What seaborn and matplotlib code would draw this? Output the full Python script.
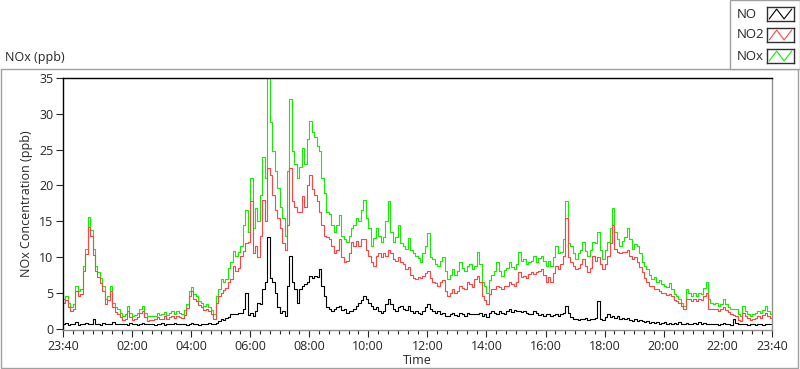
import numpy as np
import pandas as pd
import matplotlib.pyplot as plt
import seaborn as sns
from matplotlib.patches import Rectangle

# 5-minute readings from 23:40 to 23:40 next day (one row per hour)
no_x = [
    4.1, 4.6, 3.6, 3.0, 3.4, 6.0, 5.2, 5.5, 8.7, 11.1, 15.6, 13.7,
    11.1, 8.7, 7.9, 7.0, 6.0, 4.1, 4.6, 6.0, 3.6, 3.0, 2.7, 2.2,
    1.7, 2.0, 3.1, 2.2, 1.7, 1.9, 2.2, 2.8, 3.1, 2.2, 1.7, 1.8,
    1.7, 1.8, 2.2, 1.9, 2.0, 2.3, 1.9, 2.2, 2.5, 2.0, 2.4, 2.2,
    2.0, 2.6, 3.5, 5.2, 5.8, 4.8, 4.5, 3.9, 3.6, 3.2, 3.4, 3.0,
    2.6, 2.0, 4.5, 5.5, 6.9, 6.5, 6.9, 8.5, 9.3, 10.9, 10.2, 10.7,
    11.6, 14.4, 16.5, 13.5, 21.0, 14.0, 16.8, 15.0, 18.6, 24.0, 21.0, 35.0,
    28.8, 24.8, 22.0, 19.6, 17.0, 15.4, 13.0, 22.0, 32.0, 24.8, 23.0, 21.0,
    22.5, 25.2, 23.0, 26.5, 29.0, 27.5, 26.7, 25.5, 24.8, 21.0, 19.0, 16.3,
    16.0, 14.4, 13.5, 14.5, 15.8, 13.0, 12.5, 12.1, 13.0, 14.0, 14.4, 15.4,
    15.0, 16.5, 17.9, 15.5, 14.0, 11.6, 12.6, 14.0, 13.0, 12.1, 12.8, 15.0,
    17.8, 13.5, 12.1, 12.8, 14.4, 12.0, 11.5, 11.1, 12.6, 11.0, 10.5, 10.2,
    9.8, 9.3, 10.5, 11.5, 13.3, 10.0, 9.7, 9.0, 8.7, 9.5, 10.0, 8.0,
    6.9, 7.5, 8.3, 7.5, 8.0, 9.3, 8.5, 8.0, 8.7, 9.0, 8.3, 8.7,
    10.7, 9.0, 6.5, 6.0, 5.0, 6.8, 7.5, 8.0, 9.3, 8.0, 7.4, 8.2,
    8.5, 9.3, 8.6, 8.3, 9.0, 10.7, 9.5, 9.7, 9.0, 9.3, 9.5, 10.2,
    9.3, 9.8, 10.2, 9.5, 8.7, 9.5, 8.7, 10.0, 11.6, 10.5, 10.7, 12.5,
    17.8, 12.0, 11.6, 10.5, 9.7, 10.5, 11.0, 12.1, 10.8, 10.2, 11.0, 12.1,
    12.0, 13.5, 11.0, 9.7, 11.0, 12.1, 14.0, 16.8, 13.5, 12.5, 11.6, 12.3,
    12.8, 14.0, 12.5, 11.1, 11.8, 11.6, 10.5, 9.3, 8.8, 8.3, 7.5, 6.9,
    7.2, 6.5, 6.8, 6.2, 6.0, 5.8, 6.3, 5.5, 4.8, 4.6, 4.1, 3.6,
    3.1, 5.5, 5.0, 4.5, 5.0, 4.6, 5.0, 4.8, 5.6, 6.5, 4.1, 3.6,
    3.4, 3.6, 3.2, 3.5, 4.1, 3.4, 3.0, 2.7, 2.8, 2.7, 2.0, 1.7,
    3.1, 2.5, 2.0, 1.7, 2.0, 2.2, 2.5, 2.2, 2.6, 3.1, 2.4, 2.0, 2.0,
]
no2 = [
    3.6, 4.0, 3.0, 2.4, 2.8, 5.3, 4.6, 4.8, 8.0, 10.4, 14.2, 13.0,
    10.3, 8.0, 7.2, 6.3, 5.2, 3.5, 4.0, 5.3, 3.0, 2.3, 2.0, 1.6,
    1.2, 1.4, 2.5, 1.6, 1.2, 1.3, 1.6, 2.2, 2.5, 1.6, 1.1, 1.2,
    1.2, 1.3, 1.6, 1.4, 1.4, 1.7, 1.4, 1.6, 1.8, 1.5, 1.8, 1.6,
    1.5, 1.9, 2.9, 4.5, 5.2, 4.2, 3.8, 3.3, 3.0, 2.6, 2.8, 2.4,
    2.0, 1.3, 3.6, 4.5, 5.0, 5.4, 5.6, 6.5, 6.9, 8.7, 8.0, 8.4,
    10.2, 10.9, 12.0, 12.1, 17.8, 10.5, 11.6, 10.0, 13.0, 18.0, 15.0, 22.4,
    21.4, 18.6, 16.5, 15.4, 14.0, 12.0, 11.0, 14.5, 22.4, 17.8, 17.0, 16.3,
    16.3, 18.5, 17.0, 20.0, 21.5, 19.5, 18.6, 17.8, 16.3, 14.5, 13.0, 12.8,
    12.5, 11.5, 10.5, 11.0, 12.5, 10.0, 9.3, 9.5, 10.5, 12.1, 11.5, 12.3,
    11.5, 12.5, 12.5, 11.0, 10.2, 9.3, 8.7, 10.2, 10.5, 10.0, 10.5, 10.2,
    11.0, 10.5, 9.7, 9.5, 10.0, 9.3, 9.0, 8.3, 8.6, 7.5, 7.0, 6.9,
    7.2, 7.0, 7.4, 7.8, 8.0, 7.0, 6.5, 6.3, 6.0, 6.5, 6.8, 5.2,
    4.5, 5.0, 5.5, 5.0, 5.3, 6.0, 5.7, 5.5, 6.5, 6.2, 5.8, 6.9,
    7.4, 6.5, 4.5, 4.0, 3.5, 4.8, 5.5, 5.5, 6.0, 5.8, 5.5, 6.0,
    6.0, 6.5, 6.2, 6.0, 6.5, 7.9, 7.2, 7.4, 7.0, 7.6, 7.9, 7.6,
    7.9, 8.0, 8.3, 7.5, 6.5, 7.2, 6.5, 7.8, 8.7, 8.3, 9.0, 10.2,
    15.4, 10.0, 9.3, 8.7, 8.3, 8.5, 9.0, 9.7, 8.8, 7.9, 8.5, 10.2,
    9.5, 10.0, 9.0, 8.3, 9.0, 10.2, 12.0, 14.4, 11.1, 10.7, 10.5, 10.7,
    10.7, 11.0, 10.2, 9.7, 10.0, 9.3, 8.6, 7.9, 7.0, 6.5, 6.0, 6.0,
    5.5, 5.5, 5.2, 5.0, 5.0, 4.7, 4.8, 4.5, 4.0, 3.8, 3.6, 3.1,
    2.7, 4.1, 4.1, 3.8, 4.1, 3.9, 4.1, 4.0, 4.5, 5.0, 2.7, 2.8,
    2.7, 2.8, 2.5, 2.7, 3.0, 2.6, 2.3, 2.0, 1.9, 1.7, 1.2, 1.0,
    2.2, 1.8, 1.5, 1.2, 1.4, 1.5, 1.8, 1.5, 1.9, 2.2, 1.7, 1.5, 1.5,
]
no = [
    0.6, 0.8, 0.5, 0.7, 0.6, 0.9, 0.5, 0.7, 0.6, 0.8, 0.6, 0.7,
    1.3, 0.6, 0.7, 0.5, 0.8, 0.6, 0.7, 0.6, 0.9, 0.6, 0.7, 0.6,
    0.6, 0.7, 0.5, 0.8, 0.6, 0.7, 0.5, 0.6, 0.8, 0.6, 0.7, 0.6,
    0.6, 0.5, 0.7, 0.6, 0.8, 0.5, 0.6, 0.7, 0.6, 0.8, 0.6, 0.7,
    0.6, 0.7, 0.5, 0.6, 0.8, 0.6, 0.7, 0.5, 0.6, 0.7, 0.6, 0.8,
    0.7, 0.6, 0.8, 1.0, 1.3, 1.2, 1.5, 1.6, 2.0, 2.0, 2.1, 2.2,
    2.2, 2.7, 5.0, 1.9, 2.2, 1.7, 2.5, 3.6, 3.4, 5.5, 6.5, 12.8,
    7.0, 6.5, 5.0, 3.0, 2.2, 2.5, 1.7, 6.0, 10.2, 6.5, 5.5, 3.6,
    5.5, 6.0, 6.2, 6.5, 7.3, 7.0, 7.4, 7.2, 8.3, 6.0, 4.5, 3.0,
    2.7, 2.5, 2.8, 3.0, 3.1, 2.6, 2.8, 2.2, 2.5, 2.4, 2.8, 3.1,
    3.6, 4.0, 4.5, 4.2, 3.6, 3.1, 2.7, 3.0, 2.5, 2.2, 2.5, 3.5,
    4.1, 3.5, 2.7, 2.5, 3.0, 3.1, 2.8, 2.6, 3.1, 2.5, 2.2, 2.5,
    2.2, 2.0, 2.5, 3.0, 3.4, 2.8, 2.5, 2.2, 2.4, 2.0, 2.2, 1.8,
    1.7, 2.0, 2.2, 1.9, 1.8, 2.2, 2.0, 1.8, 2.2, 2.0, 2.1, 2.0,
    2.0, 2.2, 1.8, 2.0, 1.6, 2.2, 2.5, 2.2, 2.0, 2.4, 2.2, 2.1,
    2.5, 2.7, 2.3, 2.6, 2.4, 2.5, 2.3, 2.5, 2.2, 2.0, 2.1, 2.4,
    2.2, 1.9, 2.0, 1.8, 2.1, 2.0, 1.7, 1.9, 2.1, 1.8, 2.0, 2.2,
    3.1, 2.2, 1.6, 1.3, 1.4, 1.2, 1.4, 1.3, 1.5, 1.2, 1.4, 1.3,
    1.5, 3.8, 1.4, 1.2, 1.6, 2.0, 1.6, 1.8, 1.5, 1.7, 1.4, 1.5,
    1.3, 1.5, 1.2, 1.1, 1.3, 1.0, 1.2, 1.0, 0.9, 1.1, 0.8, 0.9,
    0.8, 0.9, 0.7, 0.8, 0.9, 0.7, 0.8, 0.6, 0.8, 0.7, 0.9, 0.7,
    0.6, 0.8, 0.7, 0.6, 0.8, 0.7, 0.9, 0.6, 0.8, 0.7, 0.6, 0.7,
    0.6, 0.7, 0.5, 0.6, 0.8, 0.6, 0.7, 0.5, 1.3, 0.8, 0.6, 0.7,
    0.6, 0.7, 0.5, 0.6, 0.7, 0.5, 0.6, 0.7, 0.5, 0.6, 0.7, 0.6, 0.6,
]
minutes = np.arange(len(no)) * 5  # minutes after 23:40

tick_pos = [0, 140, 260, 380, 500, 620, 740, 860, 980, 1100, 1220, 1340, 1440]
tick_labels = ['23:40', '02:00', '04:00', '06:00', '08:00', '10:00', '12:00',
               '14:00', '16:00', '18:00', '20:00', '22:00', '23:40']
series_names = ['NO', 'NO2', 'NOx']
series_colors = ['#000000', '#ff4444', '#11ee00']

df = pd.DataFrame({'t': minutes, 'NO': no, 'NO2': no2, 'NOx': no_x})

sns.set_style("ticks")
plt.rcParams['font.family'] = ['Open Sans', 'DejaVu Sans']

fig = plt.figure(figsize=(8, 3.69), dpi=100)

# outer frame and legend box (kept behind the axes)
fig.add_artist(Rectangle((0.001, 0.002), 0.997, 1 - 69 / 369 - 0.002, transform=fig.transFigure,
                         fill=False, edgecolor='#a0a0a0', lw=1, zorder=-5))
fig.add_artist(Rectangle((730 / 800, 1 - 69 / 369), 70 / 800, 69 / 369, transform=fig.transFigure,
                         facecolor='white', edgecolor='#a0a0a0', lw=1, zorder=-4))
fig.text(5 / 800, 1 - 58 / 369, 'NOx (ppb)', fontsize=9, va='center', ha='left')

ax = fig.add_axes([63 / 800, 1 - 330 / 369, (772 - 63) / 800, (330 - 78) / 369])
# draw green first, black on top
for name, col in zip(series_names[::-1], series_colors[::-1]):
    sns.lineplot(data=df, x='t', y=name, color=col, lw=0.8, ax=ax,
                 drawstyle='steps-post', legend=False)

ax.set_xlim(0, 1440)
ax.set_ylim(-0.2, 35)
ax.set_yticks(range(0, 36, 5))
ax.set_xticks(tick_pos)
ax.set_xticklabels(tick_labels)
ax.set_xticks(range(0, 1441, 20), minor=True)
ax.tick_params(axis='both', labelsize=9, length=5, width=0.8, pad=2)
ax.tick_params(axis='x', which='minor', length=3, width=0.8)
ax.set_xlabel('Time', fontsize=9, labelpad=1)
ax.set_ylabel('NOx Concentration (ppb)', fontsize=9, labelpad=4)
for s in ['left', 'top']:
    ax.spines[s].set_color('black')
for s in ['bottom', 'right']:
    ax.spines[s].set_color('#909090')
for s in ax.spines.values():
    s.set_linewidth(1)

# legend entries with zigzag swatches
for i, (name, col) in enumerate(zip(series_names, series_colors)):
    yc = [14, 35, 56][i]
    fig.text(737 / 800, 1 - yc / 369, name, fontsize=9.5, va='center', ha='left')
    sw = fig.add_axes([767 / 800, 1 - (yc + 7) / 369, 27 / 800, 14 / 369])
    sw.set_zorder(5)
    sw.plot([0, 0.33, 0.66, 1], [0.15, 0.85, 0.15, 0.85], color=col, lw=0.8)
    sw.set_xlim(-0.1, 1.1)
    sw.set_ylim(0, 1)
    sw.set_xticks([])
    sw.set_yticks([])
    for s in sw.spines.values():
        s.set_color('#303030')
        s.set_linewidth(1)

fig.savefig('out.png', dpi=100)
